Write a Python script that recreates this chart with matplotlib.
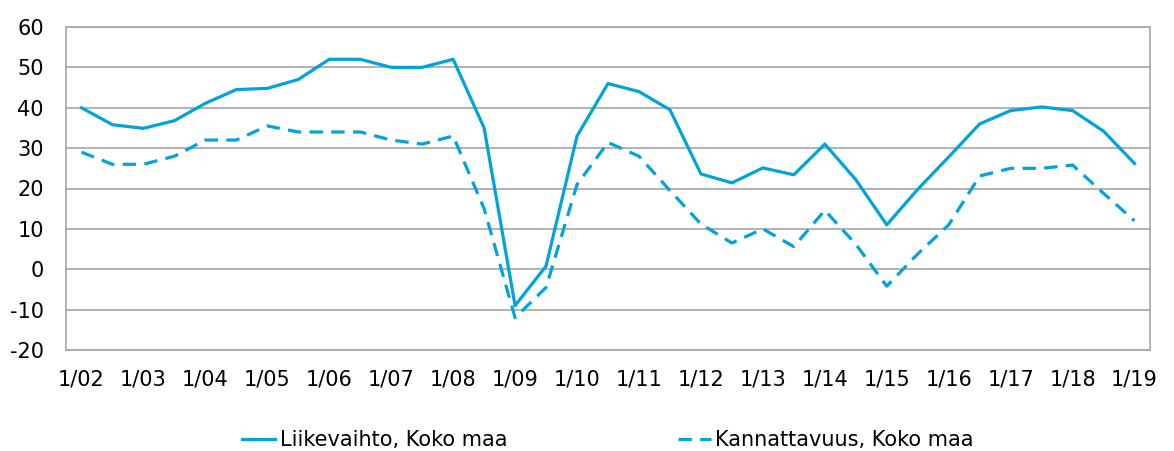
import matplotlib
matplotlib.use("Agg")
import matplotlib.pyplot as plt
import numpy as np

years = list(range(2, 20))
categories = []
for y in years:
    categories.append(f"1/{y:02d}")
    if y != 19:
        categories.append(f"7/{y:02d}")

liikevaihto = [40, 35.8, 34.9, 36.8, 41.1, 44.5, 44.8, 47, 52, 52,
               50, 50, 52, 35, -9, 0.8, 33, 46, 44, 39.5,
               23.6, 21.4, 25.1, 23.4, 31, 22.2, 11, 19.8, 27.8, 36,
               39.3, 40.2, 39.3, 34.2, 26.2]
kannattavuus = [29, 26, 26, 28, 32, 32, 35.5, 34, 34, 34,
                32, 31, 33, 15, -12, -4.5, 21, 31.4, 28, 19.5,
                11.2, 6.5, 10, 5.6, 14.6, 6.2, -4.2, 3.8, 11, 23.1,
                25, 25, 25.8, 18.8, 12]

color = "#00A4DB"
plt.rcParams['font.family'] = ['DejaVu Sans']
plt.rcParams['axes.unicode_minus'] = False

fig = plt.figure(figsize=(11.74, 4.51), dpi=100)
ax = fig.add_axes([66/1174, 1-350/451, (1150-66)/1174, (350-27)/451])

x = np.arange(len(categories))
ax.plot(x, liikevaihto, color=color, lw=2.3, label="Liikevaihto, Koko maa")
ax.plot(x, kannattavuus, color=color, lw=2.3, dashes=(4.2, 2.6), label="Kannattavuus, Koko maa")

ax.set_xlim(-0.5, len(categories) - 0.5)
ax.set_ylim(-20, 60)
ax.set_yticks(range(-20, 61, 10))
ax.set_xticks(x[::2])
ax.set_xticklabels(categories[::2])
ax.tick_params(axis='both', length=0, labelsize=15, colors='black')
ax.tick_params(axis='y', pad=16)
ax.tick_params(axis='x', pad=14)
ax.grid(axis='y', color='#A6A6A6', lw=1.2)
ax.set_axisbelow(True)
for s in ax.spines.values():
    s.set_color('#A6A6A6')
    s.set_linewidth(1.2)

fig.legend(loc='center', bbox_to_anchor=(608/1174, 1-440/451), ncol=2, frameon=False,
           fontsize=15, handlelength=1.6, handletextpad=0.2, columnspacing=8.2)

fig.savefig("out.png", dpi=100)
